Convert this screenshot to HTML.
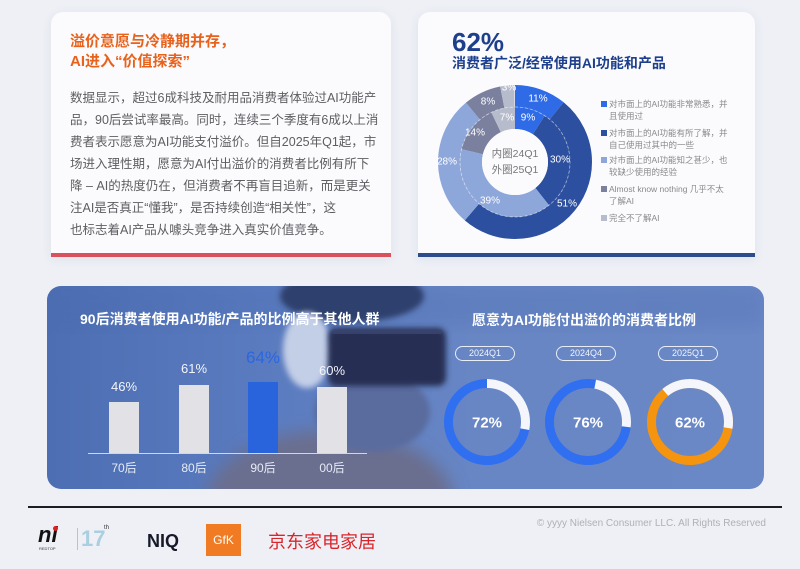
<!DOCTYPE html>
<html><head><meta charset="utf-8">
<style>
*{margin:0;padding:0;box-sizing:border-box}
body{width:800px;height:569px;overflow:hidden;background:#eef0f6;font-family:"Liberation Sans","Noto Sans CJK SC",sans-serif;position:relative}
.abs{position:absolute}
.card{position:absolute;background:#fbfbfd;border-radius:12px 12px 0 0;box-shadow:0 2px 10px rgba(60,70,110,0.08)}
.body p{white-space:nowrap;height:22px;line-height:22px}
.leg{position:absolute;left:601px;font-size:8.5px;line-height:12px;color:#8a8a8e;white-space:nowrap}
.leg i{position:absolute;left:0;top:3px;width:6px;height:6px}
.leg span{display:block;margin-left:8px}
.pill{position:absolute;top:346px;width:60px;height:15px;border:1px solid rgba(255,255,255,0.85);border-radius:8px;color:#f2f5fb;font-size:9px;line-height:13px;text-align:center}
.bl{position:absolute;width:50px;text-align:center;color:#f3f5fa;font-size:13px;line-height:16px}
.xl{position:absolute;width:50px;text-align:center;color:#e6ebf6;font-size:12px;line-height:14px;top:461px}
</style></head><body>

<!-- top-left card -->
<div class="card" style="left:51px;top:12px;width:340px;height:245px"></div>
<div class="abs" style="left:51px;top:253px;width:340px;height:4px;background:#d8515d"></div>
<div class="abs" style="left:70px;top:32px;font-size:15px;line-height:20px;font-weight:bold;color:#e8621c;white-space:nowrap">溢价意愿与冷静期并存，<br>AI进入“价值探索”</div>
<div class="abs body" style="left:70px;top:87px;font-size:12.5px;color:#5e5e62">
<p>数据显示，超过6成科技及耐用品消费者体验过AI功能产</p>
<p>品，90后尝试率最高。同时，连续三个季度有6成以上消</p>
<p>费者表示愿意为AI功能支付溢价。但自2025年Q1起，市</p>
<p>场进入理性期，愿意为AI付出溢价的消费者比例有所下</p>
<p>降 – AI的热度仍在，但消费者不再盲目追新，而是更关</p>
<p>注AI是否真正“懂我”，是否持续创造“相关性”，这</p>
<p>也标志着AI产品从噱头竞争进入真实价值竞争。</p>
</div>

<!-- top-right card -->
<div class="card" style="left:418px;top:12px;width:337px;height:245px"></div>
<div class="abs" style="left:418px;top:253px;width:337px;height:4px;background:#2c4c8c"></div>
<div class="abs" style="left:452px;top:29px;font-size:26px;line-height:26px;font-weight:bold;color:#1d3f8c">62%</div>
<div class="abs" style="left:452px;top:54px;font-size:14px;line-height:18px;font-weight:bold;color:#1d3f8c;white-space:nowrap">消费者广泛/经常使用AI功能和产品</div>

<svg class="abs" style="left:0;top:0" width="800" height="569" viewBox="0 0 800 569">
  <g transform="rotate(-90 515 162)" fill="none">
    <!-- outer ring 25Q1 -->
    <circle cx="515" cy="162" r="66" stroke-width="22" pathLength="101" stroke="#2f6be6" stroke-dasharray="11 200" stroke-dashoffset="0"/>
    <circle cx="515" cy="162" r="66" stroke-width="22" pathLength="101" stroke="#2c4f9f" stroke-dasharray="51 200" stroke-dashoffset="-11"/>
    <circle cx="515" cy="162" r="66" stroke-width="22" pathLength="101" stroke="#8ea7da" stroke-dasharray="28 200" stroke-dashoffset="-62"/>
    <circle cx="515" cy="162" r="66" stroke-width="22" pathLength="101" stroke="#7b809f" stroke-dasharray="8 200" stroke-dashoffset="-90"/>
    <circle cx="515" cy="162" r="66" stroke-width="22" pathLength="101" stroke="#b7bccd" stroke-dasharray="3 200" stroke-dashoffset="-98"/>
    <!-- inner ring 24Q1 -->
    <circle cx="515" cy="162" r="44" stroke-width="22" pathLength="99" stroke="#2f6be6" stroke-dasharray="9 200" stroke-dashoffset="0"/>
    <circle cx="515" cy="162" r="44" stroke-width="22" pathLength="99" stroke="#2c4f9f" stroke-dasharray="30 200" stroke-dashoffset="-9"/>
    <circle cx="515" cy="162" r="44" stroke-width="22" pathLength="99" stroke="#8ea7da" stroke-dasharray="39 200" stroke-dashoffset="-39"/>
    <circle cx="515" cy="162" r="44" stroke-width="22" pathLength="99" stroke="#7b809f" stroke-dasharray="14 200" stroke-dashoffset="-78"/>
    <circle cx="515" cy="162" r="44" stroke-width="22" pathLength="99" stroke="#b7bccd" stroke-dasharray="7 200" stroke-dashoffset="-92"/>
    <circle cx="515" cy="162" r="55" stroke-width="0.8" stroke="#ffffff" stroke-opacity="0.55" stroke-dasharray="3 2"/>
  </g>
  <circle cx="515" cy="162" r="33" fill="#fbfbfd"/>
  <g font-family="Liberation Sans, sans-serif" font-size="10" fill="#ffffff" text-anchor="middle" dominant-baseline="central">
    <text x="538" y="99">11%</text>
    <text x="567" y="204">51%</text>
    <text x="447" y="162">28%</text>
    <text x="488" y="102">8%</text>
    <text x="509" y="88">3%</text>
    <text x="528" y="118">9%</text>
    <text x="560" y="160">30%</text>
    <text x="490" y="201">39%</text>
    <text x="475" y="133">14%</text>
    <text x="507" y="118">7%</text>
  </g>
  <g font-family="Liberation Sans, Noto Sans CJK SC, sans-serif" font-size="10.5" fill="#77777c" text-anchor="middle" dominant-baseline="central">
    <text x="515" y="154">内圈24Q1</text>
    <text x="515" y="170">外圈25Q1</text>
  </g>
</svg>

<div class="leg" style="top:98px"><i style="background:#2f6be6"></i><span>对市面上的AI功能非常熟悉，并</span><span>且使用过</span></div>
<div class="leg" style="top:127px"><i style="background:#2c4f9f"></i><span>对市面上的AI功能有所了解，并</span><span>自己使用过其中的一些</span></div>
<div class="leg" style="top:154px"><i style="background:#8ea7da"></i><span>对市面上的AI功能知之甚少，也</span><span>较缺少使用的经验</span></div>
<div class="leg" style="top:183px"><i style="background:#7b809f"></i><span>Almost know nothing 几乎不太</span><span>了解AI</span></div>
<div class="leg" style="top:212px"><i style="background:#b7bccd"></i><span>完全不了解AI</span></div>

<!-- bottom panel -->
<svg class="abs" style="left:47px;top:286px" width="717" height="203" viewBox="47 286 717 203">
  <defs>
    <clipPath id="cp"><rect x="47" y="286" width="717" height="203" rx="14"/></clipPath>
    <linearGradient id="bg" x1="0" y1="0" x2="1" y2="0">
      <stop offset="0" stop-color="#4d6eb2"/>
      <stop offset="0.3" stop-color="#5a7bbf"/>
      <stop offset="0.6" stop-color="#6886c4"/>
      <stop offset="1" stop-color="#6b88c6"/>
    </linearGradient>
    <filter id="bl" x="-20%" y="-20%" width="140%" height="140%"><feGaussianBlur stdDeviation="3"/></filter>
    <filter id="bl2" x="-20%" y="-20%" width="140%" height="140%"><feGaussianBlur stdDeviation="8"/></filter>
  </defs>
  <g clip-path="url(#cp)">
    <rect x="47" y="286" width="717" height="203" fill="url(#bg)"/>
    <rect x="47" y="286" width="717" height="40" fill="#4a6aae" opacity="0.25" filter="url(#bl2)"/>
    <ellipse cx="330" cy="505" rx="125" ry="75" fill="#6a6e8f" filter="url(#bl2)"/>
    <ellipse cx="372" cy="412" rx="58" ry="40" fill="#5a6c9e" filter="url(#bl)"/>
    <ellipse cx="352" cy="296" rx="72" ry="26" fill="#2f416d" filter="url(#bl)"/>
    <ellipse cx="307" cy="350" rx="24" ry="38" fill="#c3cee7" filter="url(#bl)"/>
    <rect x="328" y="328" width="118" height="58" rx="8" fill="#262f52" filter="url(#bl)"/>
    <rect x="332" y="330" width="110" height="4" rx="2" fill="#3b4670" opacity="0.8"/>
  </g>
</svg>

<div class="abs" style="left:80px;top:310px;font-size:14px;line-height:18px;font-weight:bold;color:#ffffff;white-space:nowrap">90后消费者使用AI功能/产品的比例高于其他人群</div>
<div class="abs" style="left:88px;top:453px;width:279px;height:1px;background:rgba(225,233,250,0.85)"></div>
<div class="abs" style="left:109px;top:402px;width:30px;height:51px;background:#e1e1e6"></div>
<div class="abs" style="left:179px;top:385px;width:30px;height:68px;background:#e1e1e6"></div>
<div class="abs" style="left:248px;top:382px;width:30px;height:71px;background:#2a64dc"></div>
<div class="abs" style="left:317px;top:387px;width:30px;height:66px;background:#e1e1e6"></div>
<div class="bl" style="left:99px;top:379px">46%</div>
<div class="bl" style="left:169px;top:361px">61%</div>
<div class="bl" style="left:238px;top:348px;font-size:17px;line-height:20px;color:#2a66e2">64%</div>
<div class="bl" style="left:307px;top:363px">60%</div>
<div class="xl" style="left:99px">70后</div>
<div class="xl" style="left:169px">80后</div>
<div class="xl" style="left:238px">90后</div>
<div class="xl" style="left:307px">00后</div>

<div class="abs" style="left:472px;top:311px;font-size:14px;line-height:18px;font-weight:bold;color:#ffffff;white-space:nowrap">愿意为AI功能付出溢价的消费者比例</div>
<div class="pill" style="left:455px">2024Q1</div>
<div class="pill" style="left:556px">2024Q4</div>
<div class="pill" style="left:658px">2025Q1</div>

<svg class="abs" style="left:0;top:0" width="800" height="569" viewBox="0 0 800 569">
  <g fill="none" stroke-width="9">
    <circle cx="487" cy="422" r="38.5" stroke="#2f6ff0"/>
    <circle cx="487" cy="422" r="38.5" stroke="#f4f6fb" pathLength="100" stroke-dasharray="28 200" transform="rotate(-90 487 422)"/>
    <circle cx="588" cy="422" r="38.5" stroke="#2f6ff0"/>
    <circle cx="588" cy="422" r="38.5" stroke="#f4f6fb" pathLength="100" stroke-dasharray="24 200" stroke-dashoffset="-3" transform="rotate(-90 588 422)"/>
    <circle cx="690" cy="422" r="38.5" stroke="#f5940f"/>
    <circle cx="690" cy="422" r="38.5" stroke="#f4f6fb" pathLength="100" stroke-dasharray="38.6 61.4" stroke-dashoffset="11.1" transform="rotate(-90 690 422)"/>
  </g>
  <g font-family="Liberation Sans, sans-serif" font-size="15" font-weight="bold" fill="#ffffff" text-anchor="middle" dominant-baseline="central">
    <text x="487" y="423">72%</text>
    <text x="588" y="423">76%</text>
    <text x="690" y="423">62%</text>
  </g>
</svg>

<!-- footer -->
<div class="abs" style="left:28px;top:506px;width:754px;height:2px;background:#1c1c22"></div>
<div class="abs" style="left:521px;top:517px;width:245px;text-align:right;font-size:10px;line-height:14px;color:#aeb0b8;white-space:nowrap">© yyyy Nielsen Consumer LLC. All Rights Reserved</div>

<div class="abs" style="left:38px;top:524px;font-size:22px;line-height:22px;font-weight:bold;font-style:italic;color:#111">ni</div>
<div class="abs" style="left:53px;top:526px;width:5px;height:5px;border-radius:50%;background:#e02020"></div>
<div class="abs" style="left:39px;top:546px;font-size:4px;line-height:5px;color:#333">REDTOP</div>
<div class="abs" style="left:77px;top:528px;width:1px;height:22px;background:#b8c2cc"></div>
<div class="abs" style="left:81px;top:527px;font-size:22px;line-height:24px;color:#a9cfe0;font-weight:bold">17</div>
<div class="abs" style="left:104px;top:525px;font-size:6px;line-height:7px;color:#333">th</div>
<div class="abs" style="left:147px;top:531px;font-size:18px;line-height:20px;font-weight:bold;color:#17182a">NIQ</div>
<div class="abs" style="left:206px;top:524px;width:35px;height:32px;background:#f07b22;color:#fff;font-size:12px;line-height:32px;text-align:center">GfK</div>
<div class="abs" style="left:268px;top:531px;font-size:18px;line-height:22px;color:#d9262c;white-space:nowrap">京东家电家居</div>

</body></html>
